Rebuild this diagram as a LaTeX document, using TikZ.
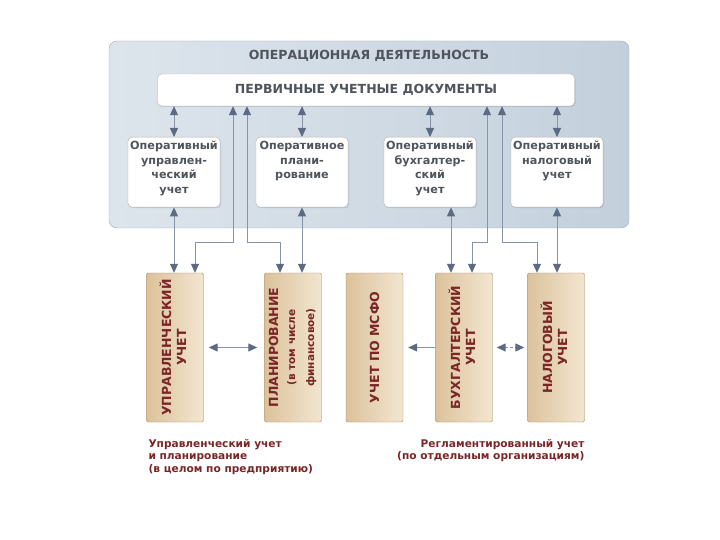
\documentclass[tikz,border=0pt]{standalone}
\usepackage{fontspec}
\setmainfont{DejaVu Sans}
\usepackage{tikz}
\usetikzlibrary{calc,shadows,arrows.meta}

\definecolor{panelL}{HTML}{DDE5EC}
\definecolor{panelR}{HTML}{C3D0DC}
\definecolor{panelLine}{HTML}{9DABBA}
\definecolor{greyText}{HTML}{4F555C}
\definecolor{arrowCol}{HTML}{8793A9}
\definecolor{tipCol}{HTML}{5C6A84}
\definecolor{tanL}{HTML}{DCC29C}
\definecolor{tanR}{HTML}{F2E6D0}
\definecolor{tanLine}{HTML}{A3855F}
\definecolor{redText}{HTML}{7A2526}

\tikzset{
	panel/.style={draw=panelLine, rounded corners=8pt, left color=panelL, right color=panelR, minimum width=520pt, minimum height=187pt, inner sep=0pt},
	docbox/.style={draw=gray!60, fill=white, rounded corners=4pt, minimum width=417pt, minimum height=32pt, drop shadow={opacity=0.25, shadow xshift=1pt, shadow yshift=-1pt}, font=\bfseries\fontsize{12.5}{14}\selectfont, text=greyText},
	opbox/.style={draw=gray!60, fill=white, rounded corners=4pt, anchor=north, minimum width=92pt, minimum height=70pt, inner sep=0pt, drop shadow={opacity=0.25, shadow xshift=1pt, shadow yshift=-1pt}, font=\bfseries\fontsize{11.2}{14.5}\selectfont, text=greyText},
	acctbox/.style={draw=tanLine, rounded corners=2pt, left color=tanL, right color=tanR, minimum width=57pt, minimum height=149pt, inner sep=0pt, font=\bfseries\fontsize{12.5}{15}\selectfont, text=redText},
	note/.style={font=\bfseries\fontsize{10.6}{12.2}\selectfont, text=redText},
	tip/.style={Triangle[length=9pt,width=8pt,color=tipCol]},
	link/.style={draw=arrowCol, line width=1pt, {Triangle[length=9pt,width=8pt,color=tipCol]}-{Triangle[length=9pt,width=8pt,color=tipCol]}},
	feed/.style={draw=arrowCol, line width=1pt, -{Triangle[length=9pt,width=8pt,color=tipCol]}}
}

\begin{document}
\begin{tikzpicture}[x=1pt,y=-1pt]
	\useasboundingbox (0,0) rectangle (720,540);

	%operations panel
	\node[panel] (ops) at (369,134.5) {};
	\node[font=\bfseries\fontsize{12.5}{14}\selectfont, text=greyText] (opsTitle) at (369,56) {ОПЕРАЦИОННАЯ ДЕЯТЕЛЬНОСТЬ};
	\node[docbox] (docs) at (366,90) {ПЕРВИЧНЫЕ УЧЕТНЫЕ ДОКУМЕНТЫ};

	%op boxes - nodes
	\node[opbox] (opMgmt) at (174,137) {\parbox[c][70pt][t]{90pt}{\centering\vspace{4pt}Оперативный\\управлен-\\ческий\\учет}};
	\node[opbox] (opPlan) at (302,137) {\parbox[c][70pt][t]{90pt}{\centering\vspace{4pt}Оперативное\\плани-\\рование}};
	\node[opbox] (opBook) at (430,137) {\parbox[c][70pt][t]{90pt}{\centering\vspace{4pt}Оперативный\\бухгалтер-\\ский\\учет}};
	\node[opbox] (opTax)  at (557,137) {\parbox[c][70pt][t]{90pt}{\centering\vspace{4pt}Оперативный\\налоговый\\учет}};

		%op boxes - arrows
		\draw[link] (opMgmt.north) -- (opMgmt.north |- docs.south);
		\draw[link] (opPlan.north) -- (opPlan.north |- docs.south);
		\draw[link] (opBook.north) -- (opBook.north |- docs.south);
		\draw[link] (opTax.north)  -- (opTax.north |- docs.south);

	%accounting boxes - nodes
	\node[acctbox] (mgmt) at (175,347.5)   {\rotatebox{90}{\begin{tabular}{@{}c@{}}УПРАВЛЕНЧЕСКИЙ\\УЧЕТ\end{tabular}}};
	\node[acctbox] (plan) at (293,347.5)   {\rotatebox{90}{\begin{tabular}{@{}c@{}}ПЛАНИРОВАНИЕ\\[2pt]{\fontsize{10.5}{12}\selectfont(в том числе}\\[4pt]{\fontsize{10.5}{12}\selectfont финансовое)}\end{tabular}}};
	\node[acctbox] (ifrs) at (374.5,347.5) {\rotatebox{90}{УЧЕТ ПО МСФО}};
	\node[acctbox] (book) at (464,347.5)   {\rotatebox{90}{\begin{tabular}{@{}c@{}}БУХГАЛТЕРСКИЙ\\УЧЕТ\end{tabular}}};
	\node[acctbox] (tax)  at (556,347.5)   {\rotatebox{90}{\begin{tabular}{@{}c@{}}НАЛОГОВЫЙ\\УЧЕТ\end{tabular}}};

		%op boxes -- accounting boxes
		\draw[link] (opMgmt.south) -- (opMgmt.south |- mgmt.north);
		\draw[link] (opPlan.south) -- (opPlan.south |- plan.north);
		\draw[link] ([xshift=21pt]opBook.south) -- ([xshift=21pt]opBook.south |- book.north);
		\draw[link] (opTax.south)  -- (opTax.south |- tax.north);

		%documents -- accounting boxes
		\coordinate (jMgmt) at (233,242);
		\coordinate (jPlan) at (247,242);
		\coordinate (jBook) at (487,242);
		\coordinate (jTax)  at (502,242);
		\draw[link] (docs.south -| jMgmt) -- (jMgmt) -| ([xshift=20pt]mgmt.north);
		\draw[link] (docs.south -| jPlan) -- (jPlan) -| ([xshift=-13pt]plan.north);
		\draw[link] (docs.south -| jBook) -- (jBook) -| ([xshift=8pt]book.north);
		\draw[link] (docs.south -| jTax)  -- (jTax) -| ([xshift=-19pt]tax.north);

		%accounting boxes - side arrows
		\draw[link] ([xshift=5pt]mgmt.east) -- ([xshift=-7pt]plan.west);
		\draw[feed] (book.west) -- ([xshift=5pt]ifrs.east);
		\draw[link, densely dashed] ([xshift=4pt]book.east) -- ([xshift=-3pt]tax.west);

	%notes
	\node[note, anchor=north west, align=left]  (noteMgmt) at (145,436) {Управленческий учет\\и планирование\\(в целом по предприятию)};
	\node[note, anchor=north east, align=right] (noteReg)  at (588,436) {Регламентированный учет\\(по отдельным организациям)};
\end{tikzpicture}
\end{document}
